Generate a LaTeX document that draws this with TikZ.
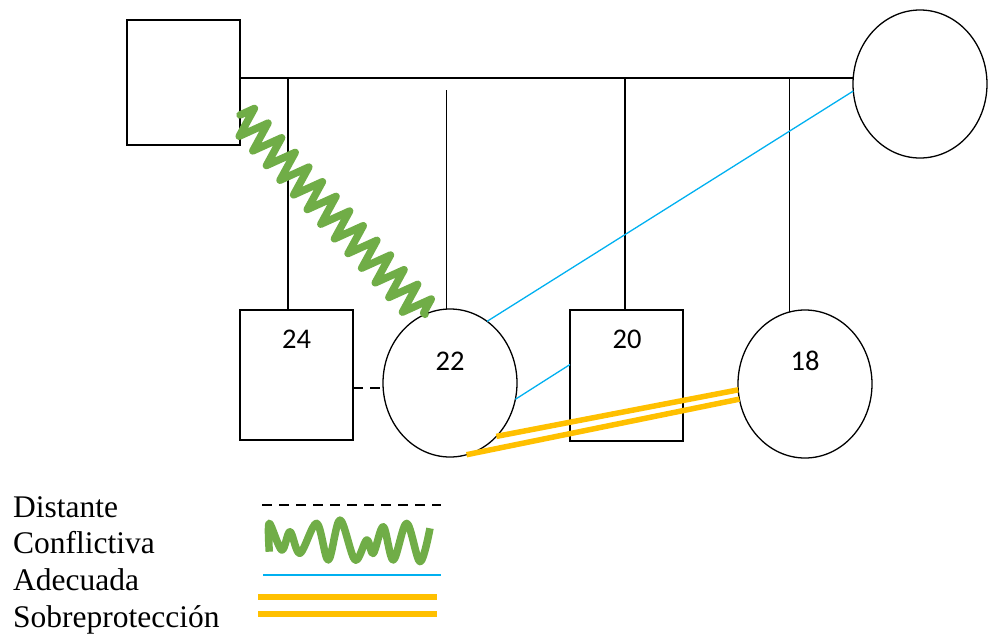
\documentclass[tikz,border=0pt]{standalone}
\usepackage{fontspec}
\setmainfont{Liberation Serif}
\newfontfamily\agefont{Carlito}
\usetikzlibrary{shapes.geometric,decorations.pathmorphing}
\definecolor{conflict}{RGB}{112,173,71}
\definecolor{adequate}{RGB}{0,176,240}
\definecolor{overprot}{RGB}{255,192,0}
\begin{document}
\begin{tikzpicture}[x=1pt,y=-1pt,
  malebox/.style={draw, line width=1.3pt, minimum width=113pt, inner sep=0pt, outer sep=0pt},
  femaleell/.style={ellipse, draw, line width=1.3pt, minimum width=134pt, minimum height=148pt, inner sep=0pt, outer sep=0pt},
  age/.style={font=\agefont\fontsize{28.5}{30}\selectfont, inner sep=0pt},
  legendtext/.style={font=\fontsize{31.5}{34}\selectfont, anchor=base west, inner sep=0pt},
  kin/.style={line width=1.3pt},
  distant/.style={line width=1.6pt, dash pattern=on 10pt off 7pt},
  conflictive/.style={conflict, line width=7.5pt, line cap=round, line join=round},
  adequateline/.style={adequate, line width=1.3pt},
  overprotline/.style={overprot, line width=5.5pt}]
\useasboundingbox (0,0) rectangle (989,633);

% parents
\node[malebox, minimum height=125pt] (father) at (183.5,82.5) {};
\node[femaleell] (mother) at (920,84) {};
\coordinate (mline) at (240,78);

% children
\node[malebox, minimum height=130pt] (s24) at (296.5,375) {};
\node[femaleell] (d22) at (450,383) {};
\node[malebox, minimum height=131pt] (s20) at (626.5,375.5) {};
\node[femaleell] (d18) at (805,384) {};

\node[age] (a24) at (296.5,339) {24};
\node[age] (a22) at (450,361) {22};
\node[age] (a20) at (627,339) {20};
\node[age] (a18) at (805,361) {18};

% marriage line and descent lines
\draw[kin] (father.east |- mline) -- (mother.west |- mline);
\draw[kin] ([xshift=-8.5pt]s24.north) -- ([xshift=-8.5pt]s24.north |- mline);
\draw[kin] ([xshift=-3.5pt]d22.north) -- ++(0,-219);
\draw[kin] ([xshift=-1.5pt]s20.north) -- ([xshift=-1.5pt]s20.north |- mline);
\draw[kin] (d18.102) -- (d18.102 |- mline);

% relationships
\draw[distant] ([yshift=-13pt]s24.east) -- ([yshift=-13pt]s24.east -| d22.west);
\draw[adequateline] (mother.186) -- (d22.59);
\draw[adequateline] ([yshift=11pt]s20.west) -- (d22.-14);
\draw[overprotline] (d22.-49) -- (d18.185);
\draw[overprotline] (d22.-77) -- (d18.193);
\draw[conflictive, decorate, decoration={zigzag, segment length=20pt, amplitude=15pt}]
  ([yshift=-32.5pt]father.east) -- (d22.110);

% legend
\node[legendtext] (l1) at (13,517) {Distante};
\node[legendtext] (l2) at (13,553) {Conflictiva};
\node[legendtext] (l3) at (13,590) {Adecuada};
\node[legendtext] (l4) at (13,627) {Sobreprotección};

\draw[distant, line width=2pt] (262,505) -- (441,505);
\draw[conflict, line width=7.5pt, line join=round] plot[smooth, tension=0.55] coordinates {
  (269.3,551.7) (269.3,523.3) (281.7,550) (290,531.7) (300,553.3) (316.7,523.3)
  (328.3,560) (340,520) (355,560) (366.7,540) (373.3,553.3) (383.3,526.7)
  (393.3,560) (406.7,523.3) (420,561.7) (430,528.3)};
\draw[adequateline] (263,575) -- (441,575);
\draw[overprotline] (258,597) -- (437,597);
\draw[overprotline] (258,614) -- (437,614);
\end{tikzpicture}
\end{document}
